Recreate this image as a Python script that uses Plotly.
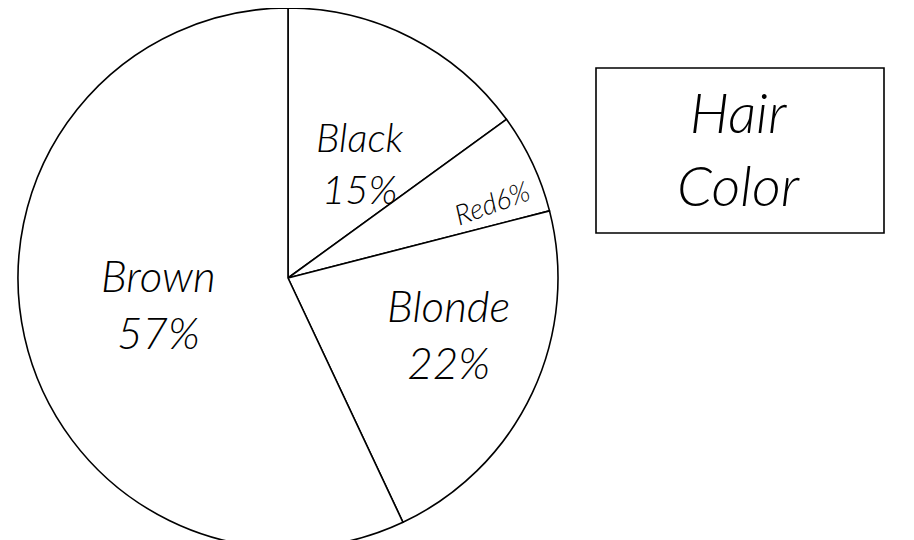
import plotly.graph_objects as go

labels = ["Black", "Red", "Blonde", "Brown"]
values = [15, 6, 22, 57]
title_lines = ["Hair", "Color"]

W, H = 914, 540
FONT = dict(family="Lato", color="black")

fig = go.Figure(go.Pie(
    labels=labels,
    values=values,
    sort=False,
    direction="clockwise",
    rotation=0,
    marker=dict(colors=["white"] * len(labels), line=dict(color="black", width=1.6)),
    textinfo="none",
    hoverinfo="label+percent",
    domain=dict(x=[10 / W, 550 / W], y=[0, 1]),
    showlegend=False,
))

def px(x, y):
    return x / W, 1 - y / H

# label placement (pixel positions of each handwritten label)
label_pos = {
    "Black": (352, 155, 0, 40),
    "Red": (484, 194, -20, 28),
    "Blonde": (440, 325, 0, 44),
    "Brown": (150, 295, 0, 44),
}
annotations = []
for lab, val in zip(labels, values):
    x, y, ang, size = label_pos[lab]
    if lab == "Red":
        text = f"{lab}{val}%"
    else:
        text = f"{lab}<br>{val}%"
    ax, ay = px(x, y)
    annotations.append(dict(
        x=ax, y=ay, xref="paper", yref="paper", text=text, showarrow=False,
        xanchor="center", yanchor="middle",
        textangle=ang, align="center",
        font=dict(size=size, style="italic", weight=300, **FONT),
    ))

tx, ty = px(730, 140)
annotations.append(dict(
    x=tx, y=ty, xref="paper", yref="paper", text="<br>".join(title_lines),
    showarrow=False, align="center", xanchor="center", yanchor="middle",
    font=dict(size=56, style="italic", weight=300, **FONT),
))

x0, y1 = px(588, 60)
x1, y0 = px(876, 225)
fig.update_layout(
    width=W, height=H,
    margin=dict(l=0, r=0, t=0, b=0),
    paper_bgcolor="white", plot_bgcolor="white",
    annotations=annotations,
    shapes=[dict(type="rect", xref="paper", yref="paper", x0=x0, x1=x1, y0=y0, y1=y1,
                 line=dict(color="black", width=1.6))],
)

fig.write_html("out.html")
